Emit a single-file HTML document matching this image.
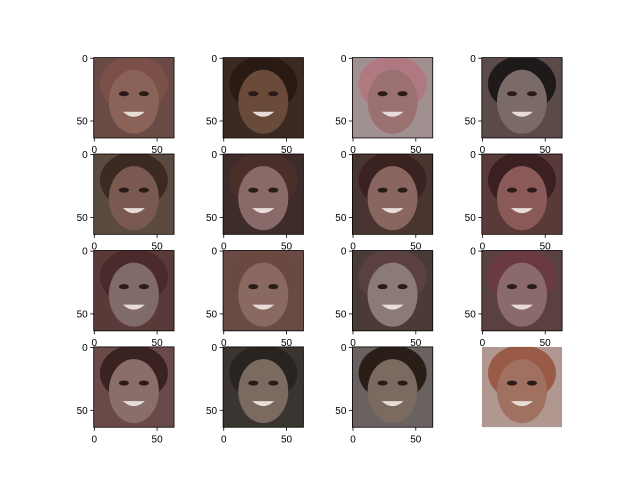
<!DOCTYPE html>
<html><head><meta charset="utf-8"><style>
html,body{margin:0;padding:0;background:#fff;}
svg{display:block;font-family:"Liberation Sans","DejaVu Sans",sans-serif;}
</style></head><body>
<svg id="fig" width="640" height="480" viewBox="0 0 640 480" xmlns="http://www.w3.org/2000/svg">
<defs id="defs"></defs>
</svg>
<script>
// per-panel appearance (background colour, face colour, hair colour)
const bgColors = ["#6a4a44","#3a2a22","#a09090","#5a4a48","#5a4a40","#3e2c2a","#4a3430","#5a3a38","#5a3a38","#6a4a44","#4a3a38","#5a4040","#6a4a48","#3a3530","#6a6260","#b09890"];
const faceColors = ["#8a6258","#6a4a38","#9a7070","#7a6a68","#7a5a50","#8a6a68","#8a6660","#8a5a58","#806a6a","#8a6a60","#8a7a78","#8a6a6a","#8a6e6a","#7a6a60","#7a6a60","#a07060"];
const hairColors = ["#7a5048","#2a1a14","#b07880","#1e1a1a","#3a2a22","#4a2e2a","#3a2220","#3a2020","#4a2a2a","#6a4a40","#5a4040","#6a3a40","#3a2220","#2a2420","#2a1e18","#9a5a48"];
const tickLabels = ["0","50"];
const tickValues = [0,50];

const svg = document.getElementById('fig');
const defs = document.getElementById('defs');
const NS = "http://www.w3.org/2000/svg";
const colX = [93.7,223.1,352.4,481.8];
const rowY = [57.6,154.0,250.5,346.9];
const S = 80.35;
function px(v){return (v+0.5)/64*S;}

for(let i=0;i<16;i++){
  const r=Math.floor(i/4), c=i%4;
  const x=colX[c], y=rowY[r];
  const g=document.createElementNS(NS,'g');
  
  
  svg.appendChild(g);
  const clip=document.createElementNS(NS,'clipPath');
  clip.setAttribute('id','cp'+i);
  clip.innerHTML=`<rect x="${x}" y="${y}" width="${S}" height="${S}"/>`;
  defs.appendChild(clip);
  const img=document.createElementNS(NS,'g');
  img.setAttribute('clip-path','url(#cp'+i+')');
  
  
  const cx=x+S/2, cy=y+S/2;
  img.innerHTML=`<rect x="${x}" y="${y}" width="${S}" height="${S}" fill="${bgColors[i]}"/>
   <ellipse cx="${cx}" cy="${cy-14}" rx="34" ry="28" fill="${hairColors[i]}"/>
   <ellipse cx="${cx}" cy="${cy+4}" rx="25" ry="32" fill="${faceColors[i]}"/>
   <ellipse cx="${cx-10}" cy="${cy-4}" rx="5" ry="2.5" fill="#2a1a18"/>
   <ellipse cx="${cx+10}" cy="${cy-4}" rx="5" ry="2.5" fill="#2a1a18"/>
   <path d="M${cx-11} ${cy+14} Q${cx} ${cy+24} ${cx+11} ${cy+14} Z" fill="#e8dcd8"/>`;
  g.appendChild(img);
  if(i===15) continue;
  const ax=document.createElementNS(NS,'g');
  
  
  let s=`<rect x="${x}" y="${y}" width="${S}" height="${S}" fill="none" stroke="#000" stroke-width="0.8"/>`;
  tickValues.forEach((v,k)=>{
    const tx=x+px(v), ty=y+px(v);
    s+=`<line x1="${tx}" y1="${y+S}" x2="${tx}" y2="${y+S+3.5}" stroke="#000" stroke-width="0.8"/>`;
    s+=`<text x="${tx}" y="${y+S+15}" font-size="10" text-anchor="middle" fill="#000">${tickLabels[k]}</text>`;
    s+=`<line x1="${x}" y1="${ty}" x2="${x-3.5}" y2="${ty}" stroke="#000" stroke-width="0.8"/>`;
    s+=`<text x="${x-6}" y="${ty+3.6}" font-size="10" text-anchor="end" fill="#000">${tickLabels[k]}</text>`;
  });
  ax.innerHTML=s;
  g.appendChild(ax);
}
</script>
</body></html>
